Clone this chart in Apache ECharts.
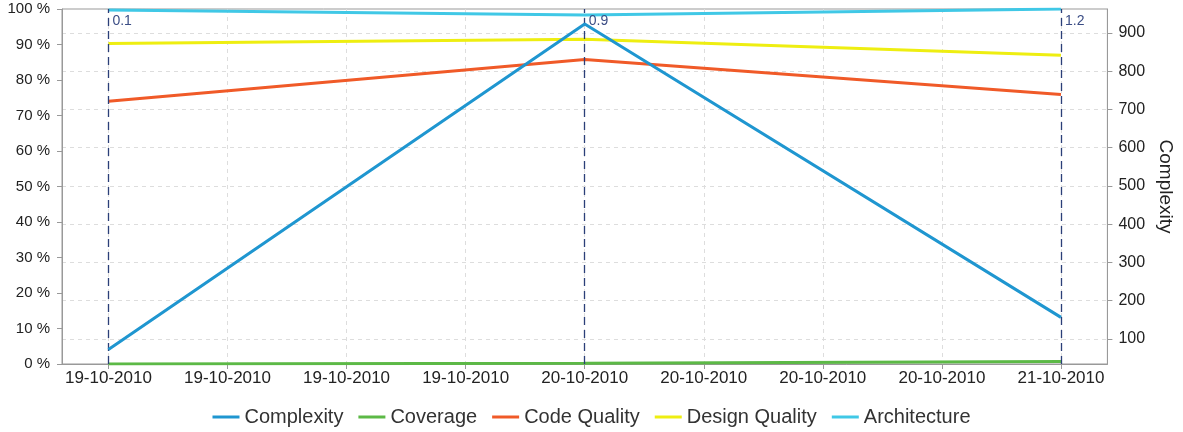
<!DOCTYPE html>
<html>
<head>
<meta charset="utf-8">
<script src="https://cdn.jsdelivr.net/npm/echarts@6/dist/echarts.min.js"></script>
<style>
html,body{margin:0;padding:0;background:#fff;}
#chart{width:1183px;height:432px;}
</style>
</head>
<body>
<div id="chart"></div>
<script>
// ---- data ----
const xLabels = ['19-10-2010','19-10-2010','19-10-2010','19-10-2010','20-10-2010','20-10-2010','20-10-2010','20-10-2010','21-10-2010'];
const buildPositions = [0, 4, 8];
const buildVersions = ['0.1', '0.9', '1.2'];
const complexity = [72, 924, 156];
const coverage = [0, 0.2, 0.7];
const codeQuality = [74, 85.8, 75.9];
const designQuality = [90.3, 91.5, 87];
const architecture = [99.7, 98.3, 100];
const leftTicks = [0,10,20,30,40,50,60,70,80,90,100];
const rightTicks = [100,200,300,400,500,600,700,800,900];
const xTicks = [0,1,2,3,4,5,6,7,8];

const pair = arr => buildPositions.map((x, i) => [x, arr[i]]);
const font = 'Liberation Sans, Arial, sans-serif';
const axisGray = '#999999';

const chart = echarts.init(document.getElementById('chart'), null, {renderer: 'canvas'});

const mk = (name, color, data, yIdx, extra) => Object.assign({
  name, type: 'line', yAxisIndex: yIdx, data: pair(data),
  symbol: 'none', lineStyle: {color, width: 3}, itemStyle: {color},
  z: 3, animation: false
}, extra || {});

chart.setOption({
  animation: false,
  textStyle: {fontFamily: font},
  grid: {left: 62, right: 75, top: 9, bottom: 68, show: true, borderColor: axisGray, borderWidth: 1},
  legend: {
    bottom: 0, left: 'center', icon: 'rect', itemWidth: 27, itemHeight: 3, itemGap: 15,
    textStyle: {fontFamily: font, fontSize: 20, color: '#333'},
    data: ['Complexity','Coverage','Code Quality','Design Quality','Architecture']
  },
  xAxis: {
    type: 'value', min: -0.39, max: 8.39,
    axisLine: {show: true, onZero: false, lineStyle: {color: axisGray}},
    axisTick: {show: true, customValues: xTicks, length: 5, lineStyle: {color: axisGray}},
    axisLabel: {customValues: xTicks, formatter: v => xLabels[v], fontSize: 17, color: '#222', margin: 6, fontFamily: font},
    splitLine: {show: true, lineStyle: {color: '#dddddd', type: [4, 4]}}
  },
  yAxis: [
    {
      type: 'value', min: 0, max: 100, interval: 10, position: 'left',
      axisLine: {show: true, onZero: false, lineStyle: {color: axisGray}},
      axisTick: {show: true, length: 5, lineStyle: {color: axisGray}},
      axisLabel: {formatter: '{value} %', fontSize: 15, color: '#222', margin: 12, fontFamily: font},
      splitLine: {show: false}
    },
    {
      type: 'value', min: 34, max: 963, position: 'right',
      name: 'Complexity', nameLocation: 'middle', nameRotate: -90, nameGap: 48,
      nameTextStyle: {fontSize: 19, color: '#222', fontFamily: font},
      axisLine: {show: true, onZero: false, lineStyle: {color: axisGray}},
      axisTick: {show: true, customValues: rightTicks, length: 5, lineStyle: {color: axisGray}},
      axisLabel: {customValues: rightTicks, fontSize: 16, color: '#222', margin: 11, fontFamily: font},
      splitLine: {show: true, lineStyle: {color: '#dddddd', type: [4, 4]}}
    }
  ],
  series: [
    mk('Complexity', '#1f96d0', complexity, 1, {z: 5}),
    mk('Coverage', '#5cb946', coverage, 0, {
      markLine: {
        silent: true, symbol: 'none', animation: false,
        lineStyle: {color: '#2b3f78', type: [8, 5], width: 1.3},
        label: {show: true, position: 'end', align: 'left', verticalAlign: 'middle', offset: [4, 17],
          formatter: p => buildVersions[p.dataIndex], color: '#3b4d85', fontSize: 14, fontFamily: font},
        data: buildPositions.map(x => ({xAxis: x}))
      }
    }),
    mk('Code Quality', '#f05a28', codeQuality, 0),
    mk('Design Quality', '#eeee11', designQuality, 0),
    mk('Architecture', '#40c8e6', architecture, 0)
  ]
});
</script>
</body>
</html>
